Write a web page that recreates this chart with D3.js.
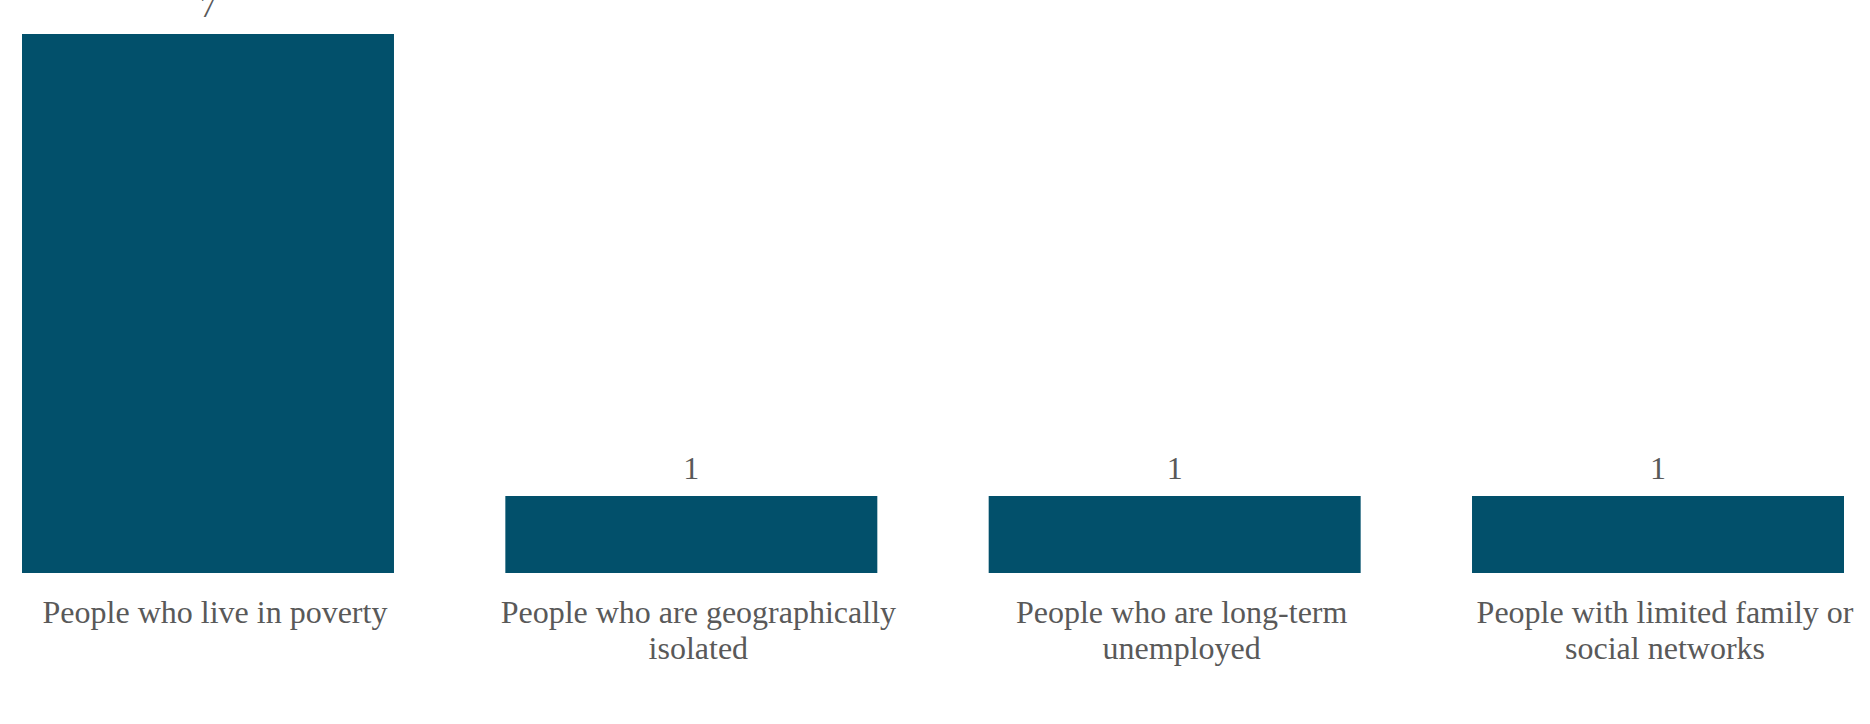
<!DOCTYPE html>
<html>
<head>
<meta charset="utf-8">
<script src="https://cdn.jsdelivr.net/npm/d3@7"></script>
<style>
  html, body { margin: 0; padding: 0; background: #ffffff; }
  svg { display: block; }
</style>
</head>
<body>
<script>
// Groups that were named, and how many times each was mentioned
const categories = [
  "People who live in poverty",
  "People who are geographically isolated",
  "People who are long-term unemployed",
  "People with limited family or social networks"
];
const counts = [7, 1, 1, 1];

const W = 1870, H = 724;
const margin = { left: 22, right: 26, top: 34, bottom: 151 };
const barColor = "#02506b";
const textColor = "#595959";
const fontFamily = "'Liberation Serif', 'Times New Roman', serif";
const fontSize = 32;

const svg = d3.select("body").append("svg")
  .attr("width", W).attr("height", H);

const x = d3.scaleBand()
  .domain(categories)
  .range([margin.left, W - margin.right])
  .paddingInner(0.2304)
  .paddingOuter(0);

const y = d3.scaleLinear()
  .domain([0, 7])
  .range([H - margin.bottom, margin.top]);

// bars
svg.selectAll("rect.bar")
  .data(categories)
  .join("rect")
  .attr("class", "bar")
  .attr("x", d => x(d))
  .attr("width", x.bandwidth())
  .attr("y", (d, i) => y(counts[i]))
  .attr("height", (d, i) => y(0) - y(counts[i]))
  .attr("fill", barColor);

// value labels above each bar
svg.selectAll("text.value")
  .data(categories)
  .join("text")
  .attr("class", "value")
  .attr("x", d => x(d) + x.bandwidth() / 2)
  .attr("y", (d, i) => y(counts[i]) - 17)
  .attr("text-anchor", "middle")
  .attr("font-family", fontFamily)
  .attr("font-size", fontSize)
  .attr("fill", textColor)
  .text((d, i) => counts[i]);

// category labels, wrapped to fit under each bar
const maxLine = 420;
const labels = svg.selectAll("text.cat")
  .data(categories)
  .join("text")
  .attr("class", "cat")
  .attr("text-anchor", "middle")
  .attr("font-family", fontFamily)
  .attr("font-size", fontSize)
  .attr("fill", textColor);

labels.each(function (d) {
  const t = d3.select(this);
  const cx = x(d) + x.bandwidth() / 2 + 7;
  const words = d.split(" ");
  const lines = [];
  let line = [];
  const probe = t.append("tspan");
  words.forEach(w => {
    const trial = line.concat([w]).join(" ");
    probe.text(trial);
    if (probe.node().getComputedTextLength() > maxLine && line.length) {
      lines.push(line.join(" "));
      line = [w];
    } else {
      line.push(w);
    }
  });
  lines.push(line.join(" "));
  probe.remove();
  lines.forEach((l, k) => {
    t.append("tspan")
      .attr("x", cx)
      .attr("y", y(0) + 50 + k * 36)
      .text(l);
  });
});
</script>
</body>
</html>
